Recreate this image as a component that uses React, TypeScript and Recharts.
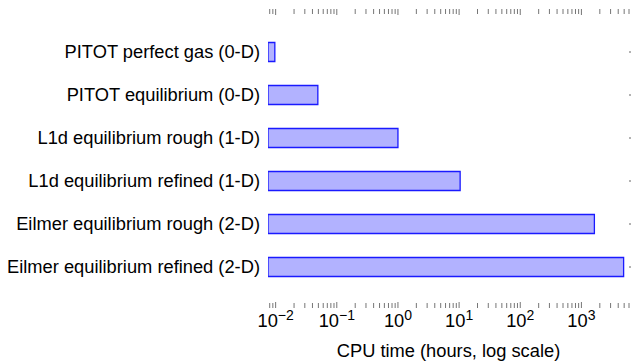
import React from 'react';
import { BarChart, Bar, XAxis, YAxis } from 'recharts';

const methods = [
  'PITOT perfect gas (0-D)',
  'PITOT equilibrium (0-D)',
  'L1d equilibrium rough (1-D)',
  'L1d equilibrium refined (1-D)',
  'Eilmer equilibrium rough (2-D)',
  'Eilmer equilibrium refined (2-D)',
];
const cpuHours = [0.0097, 0.049, 1.0, 10.4, 1630, 4900];

const majorTicks = [0.01, 0.1, 1, 10, 100, 1000];
const tickExponents = ['−2', '−1', '0', '1', '2', '3'];
const xDomain: [number, number] = [0.0075, 6000];

const data = methods.map((name, i) => ({ name, hours: cpuHours[i] }));

// minor ticks 2..9 in every decade, kept inside the domain
const allTicks = [0.001, ...majorTicks]
  .flatMap((m) => [1, 2, 3, 4, 5, 6, 7, 8, 9].map((k) => +(m * k).toPrecision(3)))
  .filter((v) => v >= xDomain[0] && v <= xDomain[1]);

const FONT = '"Liberation Sans", Arial, Helvetica, sans-serif';
const TICK_COLOR = '#666';

const isMajor = (v: number) => majorTicks.includes(v);

const BottomTick = (props: any) => {
  const { x, y, payload } = props;
  const v = payload.value;
  const major = isMajor(v);
  const idx = majorTicks.indexOf(v);
  return (
    <g>
      <line x1={x} x2={x} y1={y} y2={y - (major ? 6 : 5)} stroke={TICK_COLOR} strokeWidth={0.9} />
      {major && (
        <text x={x} y={y + 19} textAnchor="middle" fontSize={18.3} fontFamily={FONT} fill="#000">
          10
          <tspan fontSize={14} dy={-7}>
            {tickExponents[idx]}
          </tspan>
        </text>
      )}
    </g>
  );
};

const TopTick = (props: any) => {
  const { x, y, payload } = props;
  const major = isMajor(payload.value);
  return <line x1={x} x2={x} y1={y} y2={y + (major ? 6 : 5)} stroke={TICK_COLOR} strokeWidth={0.9} />;
};

const CategoryTick = (props: any) => {
  const { x, y, payload } = props;
  return (
    <text x={x - 8} y={y} dy={6.4} textAnchor="end" fontSize={18.3} fontFamily={FONT} fill="#000">
      {payload.value}
    </text>
  );
};

const RightTick = (props: any) => {
  const { x, y } = props;
  return <line x1={x} x2={x + 2} y1={y} y2={y} stroke={TICK_COLOR} strokeWidth={1} />;
};

export default function App() {
  return (
    <div style={{ position: 'absolute', left: 0, top: 0, width: 632, height: 361, background: '#fff' }}>
      <BarChart
        width={632}
        height={361}
        data={data}
        layout="vertical"
        margin={{ top: 8, right: 0, bottom: 0, left: 0 }}
        barSize={19}
      >
        <XAxis
          type="number"
          dataKey="hours"
          scale="log"
          domain={xDomain}
          allowDataOverflow
          ticks={allTicks}
          interval={0}
          axisLine={false}
          tickLine={false}
          tickSize={0}
          tickMargin={0}
          height={53}
          tick={<BottomTick />}
          label={{
            value: 'CPU time (hours, log scale)',
            position: 'insideBottom',
            offset: 4,
            fill: '#000',
            fontSize: 18.3,
            fontFamily: FONT,
          }}
        />
        <XAxis
          xAxisId="top"
          orientation="top"
          type="number"
          dataKey="hours"
          scale="log"
          domain={xDomain}
          allowDataOverflow
          ticks={allTicks}
          interval={0}
          axisLine={false}
          tickLine={false}
          tickSize={0}
          tickMargin={0}
          height={1}
          tick={<TopTick />}
        />
        <YAxis
          type="category"
          dataKey="name"
          width={268}
          axisLine={false}
          tickLine={false}
          tickSize={0}
          tickMargin={0}
          interval={0}
          padding={{ top: 21.5, bottom: 19.5 }}
          tick={<CategoryTick />}
        />
        <YAxis
          yAxisId="right"
          orientation="right"
          type="category"
          dataKey="name"
          width={3}
          axisLine={false}
          tickLine={false}
          tickSize={0}
          tickMargin={0}
          interval={0}
          padding={{ top: 21.5, bottom: 19.5 }}
          tick={<RightTick />}
        />
        <Bar dataKey="hours" fill="#b2b2ff" stroke="#1a1aff" strokeWidth={1.3} isAnimationActive={false} />
      </BarChart>
    </div>
  );
}
